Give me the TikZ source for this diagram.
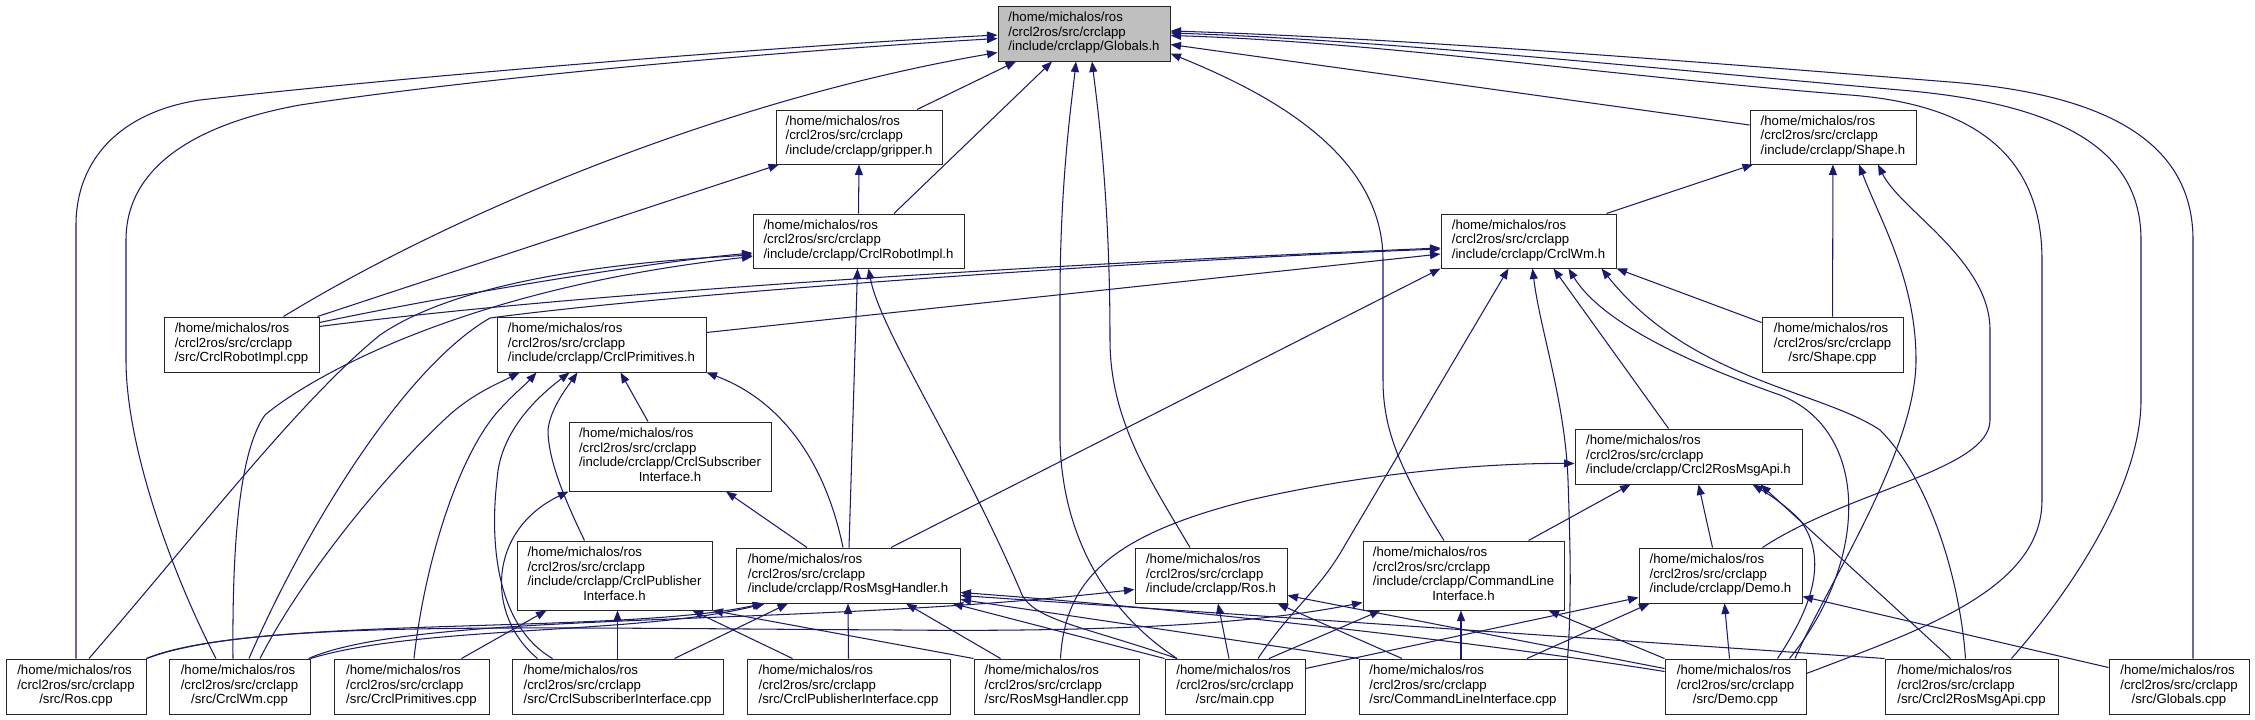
\documentclass[tikz,border=0pt]{standalone}
\usepackage{fontspec}
\setmainfont{Liberation Sans}
\usetikzlibrary{arrows.meta}
\definecolor{edgec}{HTML}{191970}
\definecolor{hdgray}{HTML}{BFBFBF}
\newcommand{\nlab}[1]{\begin{tabular}{@{}l@{}}/home/michalos/ros\\/crcl2ros/src/crclapp\\\multicolumn{1}{@{}c@{}}{#1}\end{tabular}}
\newcommand{\nlabb}[2]{\begin{tabular}{@{}l@{}}/home/michalos/ros\\/crcl2ros/src/crclapp\\#1\\\multicolumn{1}{@{}c@{}}{#2}\end{tabular}}
\begin{document}
\begin{tikzpicture}[x=1pt,y=-1pt,
 box/.style={draw=black!85, line width=1pt, fill=white, inner sep=0pt, font=\fontsize{13.2}{14.5}\selectfont},
 inc/.style={draw=edgec, line width=1.05pt, -{Triangle[length=10.5pt,width=8pt]}}]
\fill[white] (0,0) rectangle (2255,720);
\useasboundingbox (0,0) rectangle (2255,720);
% ---------- nodes ----------
\node[box, fill=hdgray, minimum width=172pt, minimum height=55pt] (g) at (1084,33.5) {\nlab{/include/crclapp/Globals.h}};
\node[box, minimum width=166pt, minimum height=54pt] (grip) at (859,137) {\nlab{/include/crclapp/gripper.h}};
\node[box, minimum width=166pt, minimum height=54pt] (shapeh) at (1833,137) {\nlab{/include/crclapp/Shape.h}};
\node[box, minimum width=211pt, minimum height=54pt] (rih) at (858.5,241) {\nlab{/include/crclapp/CrclRobotImpl.h}};
\node[box, minimum width=175pt, minimum height=54pt] (wmh) at (1528.5,241) {\nlab{/include/crclapp/CrclWm.h}};
\node[box, minimum width=155pt, minimum height=55pt] (ricpp) at (241.5,344.5) {\nlab{/src/CrclRobotImpl.cpp}};
\node[box, minimum width=209pt, minimum height=55pt] (ph) at (601.5,344.5) {\nlab{/include/crclapp/CrclPrimitives.h}};
\node[box, minimum width=141pt, minimum height=55pt] (shapecpp) at (1832.5,344.5) {\nlab{/src/Shape.cpp}};
\node[box, minimum width=202pt, minimum height=69pt] (sih) at (670,456.5) {\nlabb{/include/crclapp/CrclSubscriber}{Interface.h}};
\node[box, minimum width=227pt, minimum height=55pt] (apih) at (1688.5,456.5) {\nlab{/include/crclapp/Crcl2RosMsgApi.h}};
\node[box, minimum width=195pt, minimum height=69pt] (pih) at (614.5,575.5) {\nlabb{/include/crclapp/CrclPublisher}{Interface.h}};
\node[box, minimum width=224pt, minimum height=55pt] (rmh) at (848,575.5) {\nlab{/include/crclapp/RosMsgHandler.h}};
\node[box, minimum width=152pt, minimum height=55pt] (rosh) at (1211,575.5) {\nlab{/include/crclapp/Ros.h}};
\node[box, minimum width=201pt, minimum height=69pt] (clih) at (1463.5,575.5) {\nlabb{/include/crclapp/CommandLine}{Interface.h}};
\node[box, minimum width=163pt, minimum height=55pt] (demoh) at (1720.5,575.5) {\nlab{/include/crclapp/Demo.h}};
\node[box, minimum width=140pt, minimum height=55pt] (roscpp) at (76,686.5) {\nlab{/src/Ros.cpp}};
\node[box, minimum width=141pt, minimum height=55pt] (wmcpp) at (239.5,686.5) {\nlab{/src/CrclWm.cpp}};
\node[box, minimum width=155pt, minimum height=55pt] (pcpp) at (411.5,686.5) {\nlab{/src/CrclPrimitives.cpp}};
\node[box, minimum width=211pt, minimum height=55pt] (sicpp) at (617.5,686.5) {\nlab{/src/CrclSubscriberInterface.cpp}};
\node[box, minimum width=203pt, minimum height=55pt] (picpp) at (848.5,686.5) {\nlab{/src/CrclPublisherInterface.cpp}};
\node[box, minimum width=165pt, minimum height=55pt] (rmcpp) at (1056.5,686.5) {\nlab{/src/RosMsgHandler.cpp}};
\node[box, minimum width=140pt, minimum height=55pt] (maincpp) at (1235,686.5) {\nlab{/src/main.cpp}};
\node[box, minimum width=208pt, minimum height=55pt] (clicpp) at (1463,686.5) {\nlab{/src/CommandLineInterface.cpp}};
\node[box, minimum width=141pt, minimum height=55pt] (democpp) at (1735.5,686.5) {\nlab{/src/Demo.cpp}};
\node[box, minimum width=173pt, minimum height=55pt] (apicpp) at (1971.5,686.5) {\nlab{/src/Crcl2RosMsgApi.cpp}};
\node[box, minimum width=140pt, minimum height=55pt] (globcpp) at (2179,686.5) {\nlab{/src/Globals.cpp}};
% ---------- edges into Globals.h ----------
\draw[inc] (roscpp.north) -- (76,225) .. controls (76,160) and (120,112) .. (200,100) .. controls (420,75) and (800,45) .. ([yshift=-1.5pt]g.west);
\draw[inc] ([xshift=-23.5pt]wmcpp.north) .. controls (175,580) and (126,450) .. (126,360) -- (126,240) .. controls (126,170) and (190,125) .. (300,105) .. controls (500,75) and (800,50) .. ([yshift=-5pt]g.west);
\draw[inc] ([xshift=42pt]ricpp.north) .. controls (450,215) and (720,100) .. ([yshift=-19pt]g.west);
\draw[inc] ([xshift=58pt]grip.north) -- ([xshift=-68pt]g.south);
\draw[inc] ([xshift=35.5pt]rih.north) -- ([xshift=-32pt]g.south);
\draw[inc] ([xshift=-58pt]maincpp.north) .. controls (1110,615) and (1062,540) .. (1060,440) -- (1060,300) .. controls (1060,180) and (1072,100) .. ([xshift=-8pt]g.south);
\draw[inc] ([xshift=-21pt]rosh.north) .. controls (1150,480) and (1110,420) .. (1110,340) .. controls (1110,200) and (1098,110) .. ([xshift=8pt]g.south);
\draw[inc] ([xshift=-19.5pt]clih.north) .. controls (1400,470) and (1383,430) .. (1383,380) -- (1383,260) .. controls (1383,150) and (1260,90) .. ([yshift=-20pt]g.east);
\draw[inc] ([yshift=12pt]shapeh.west) -- ([yshift=-11pt]g.east);
\draw[inc] ([yshift=13pt]democpp.east) .. controls (1920,630) and (2042,590) .. (2042,500) -- (2042,260) .. controls (2042,160) and (1980,105) .. (1850,95) .. controls (1600,75) and (1380,42) .. ([yshift=-2pt]g.east);
\draw[inc] ([xshift=40pt]apicpp.north) .. controls (2080,580) and (2141,480) .. (2141,400) -- (2141,240) .. controls (2141,160) and (2080,105) .. (1900,90) .. controls (1650,68) and (1380,40) .. ([yshift=0.5pt]g.east);
\draw[inc] ([xshift=14pt]globcpp.north) -- (2193,240) .. controls (2193,150) and (2120,95) .. (1950,82) .. controls (1700,62) and (1400,38) .. ([yshift=2.5pt]g.east);
% ---------- gripper.h ----------
\draw[inc] (rih.north) -- (grip.south);
\draw[inc] ([xshift=-2pt]ricpp.north east) -- ([xshift=-80pt]grip.south);
% ---------- Shape.h ----------
\draw[inc] ([xshift=78pt]wmh.north) -- ([xshift=-80pt]shapeh.south);
\draw[inc] (shapecpp) -- (shapeh);
\draw[inc] ([xshift=59.5pt]democpp.north) .. controls (1830,580) and (1916,450) .. (1916,360) .. controls (1916,280) and (1880,220) .. ([xshift=26pt]shapeh.south);
\draw[inc] ([xshift=42pt]demoh.north) .. controls (1850,490) and (1990,470) .. (1990,420) -- (1990,330) .. controls (1990,260) and (1900,210) .. ([xshift=45pt]shapeh.south);
% ---------- CrclRobotImpl.h ----------
\draw[inc] ([yshift=22pt]ricpp.east) .. controls (450,295) and (650,262) .. ([yshift=-12pt]rih.west);
\draw[inc] ([xshift=13pt]roscpp.north) .. controls (200,530) and (300,400) .. (380,335) .. controls (460,280) and (620,262) .. ([yshift=-14pt]rih.west);
\draw[inc] ([xshift=-6.5pt]wmcpp.north) .. controls (232,540) and (240,450) .. (265,415) .. controls (300,385) and (450,290) .. ([yshift=-15.5pt]rih.west);
\draw[inc] ([xshift=1pt]rmh.north) -- ([xshift=-1pt]rih.south);
\draw[inc] ([xshift=-58pt]maincpp.north) .. controls (1080,625) and (1030,620) .. (1020,590) .. controls (960,450) and (880,330) .. ([xshift=10pt]rih.south);
% ---------- CrclWm.h ----------
\draw[inc] ([yshift=18pt]ricpp.east) .. controls (600,290) and (1100,262) .. ([yshift=-7pt]wmh.west);
\draw[inc] ([xshift=9.5pt]wmcpp.north) .. controls (300,540) and (400,370) .. (490,318) .. controls (700,290) and (1200,258) .. ([yshift=-8pt]wmh.west);
\draw[inc] ([yshift=12pt]ph.east) -- ([yshift=-13pt]wmh.west);
\draw[inc] ([xshift=43pt]rmh.north) -- (wmh.south west);
\draw[inc] ([xshift=23pt]maincpp.north) .. controls (1290,610) and (1320,590) .. (1345,545) -- ([xshift=-20pt]wmh.south);
\draw[inc] (clicpp.north east) .. controls (1572,600) and (1570,540) .. (1568,480) .. controls (1565,400) and (1540,330) .. ([xshift=4pt]wmh.south);
\draw[inc] ([xshift=-20pt]apih.north) -- ([xshift=25pt]wmh.south);
\draw[inc] ([xshift=54pt]democpp.north) .. controls (1870,560) and (1870,430) .. (1780,395) .. controls (1680,360) and (1600,320) .. ([xshift=40pt]wmh.south);
\draw[inc] ([xshift=-6pt]apicpp.north) .. controls (1960,580) and (1930,480) .. (1880,430) .. controls (1820,390) and (1690,380) .. ([xshift=73pt]wmh.south);
\draw[inc] ([yshift=22pt]shapecpp.west) -- (wmh.south east);
% ---------- CrclPrimitives.h ----------
\draw[inc] ([xshift=20.5pt]wmcpp.north) .. controls (300,580) and (380,480) .. (444,420) .. controls (470,395) and (495,385) .. ([xshift=-82pt]ph.south);
\draw[inc] ([xshift=2.5pt]pcpp.north) .. controls (425,560) and (460,450) .. (502,407) .. controls (515,393) and (525,385) .. ([xshift=-65pt]ph.south);
\draw[inc] ([xshift=-65pt]sicpp.north) .. controls (495,625) and (490,540) .. (497,480) .. controls (500,430) and (540,395) .. ([xshift=-32pt]ph.south);
\draw[inc] ([xshift=-30pt]pih.north) .. controls (565,500) and (548,460) .. (548,430) .. controls (550,410) and (565,390) .. ([xshift=-24pt]ph.south);
\draw[inc] ([xshift=-22pt]sih.north) -- ([xshift=19pt]ph.south);
\draw[inc] ([xshift=-5pt]rmh.north) .. controls (825,460) and (780,400) .. (ph.south east);
% ---------- CrclSubscriberInterface.h ----------
\draw[inc] ([xshift=-80pt]sicpp.north) .. controls (485,615) and (488,530) .. (sih.south west);
\draw[inc] ([xshift=-41pt]rmh.north) -- ([xshift=56pt]sih.south);
% ---------- CrclPublisherInterface.h ----------
\draw[inc] ([xshift=50pt]pcpp.north) -- ([xshift=-68pt]pih.south);
\draw[inc] (sicpp.north) -- ([xshift=3pt]pih.south);
\draw[inc] ([xshift=-56pt]picpp.north) -- ([xshift=78pt]pih.south);
\draw[inc] (rmcpp.north west) -- (pih.south east);
% ---------- RosMsgHandler.h ----------
\draw[inc] (roscpp.north east) .. controls (250,615) and (620,635) .. ([xshift=-85pt]rmh.south);
\draw[inc] (wmcpp.north east) .. controls (420,625) and (640,635) .. ([xshift=-83pt]rmh.south);
\draw[inc] ([xshift=57pt]sicpp.north) -- ([xshift=-60pt]rmh.south);
\draw[inc] (picpp.north) -- (rmh.south);
\draw[inc] ([xshift=-56pt]rmcpp.north) -- ([xshift=58pt]rmh.south);
\draw[inc] (maincpp.north west) -- ([xshift=-8pt]rmh.south east);
\draw[inc] (clicpp.north west) -- ([yshift=-24pt]rmh.east);
\draw[inc] ([yshift=15pt]democpp.west) .. controls (1500,645) and (1200,610) .. ([yshift=-17pt]rmh.east);
\draw[inc] (apicpp.north west) -- ([yshift=-20pt]rmh.east);
% ---------- Ros.h ----------
\draw[inc] ([xshift=-2pt]wmcpp.north east) .. controls (420,610) and (800,628) .. ([yshift=-14pt]rosh.west);
\draw[inc] ([xshift=-6pt]maincpp.north) -- ([xshift=7pt]rosh.south);
\draw[inc] ([xshift=-61pt]clicpp.north) -- ([xshift=-10pt]rosh.south east);
\draw[inc] ([yshift=18pt]democpp.west) -- ([yshift=-20pt]rosh.east);
% ---------- CommandLineInterface.h ----------
\draw[inc] (roscpp.north east) .. controls (250,620) and (500,628) .. (900,630) .. controls (1100,632) and (1250,625) .. ([yshift=-27pt]clih.west);
\draw[inc] ([xshift=34pt]maincpp.north) -- ([xshift=-83pt]clih.south);
\draw[inc] ([xshift=-2pt]clicpp.north) -- ([xshift=-2.5pt]clih.south);
\draw[inc] (democpp.north west) -- ([xshift=85pt]clih.south);
% ---------- Demo.h ----------
\draw[inc] ([yshift=18pt]maincpp.east) -- ([yshift=-22pt]demoh.west);
\draw[inc] ([xshift=64pt]clicpp.north) -- ([xshift=-71pt]demoh.south);
\draw[inc] ([xshift=-6pt]democpp.north) -- ([xshift=4pt]demoh.south);
\draw[inc] ([yshift=19pt]globcpp.west) -- ([yshift=-21pt]demoh.east);
% ---------- Crcl2RosMsgApi.h ----------
\draw[inc] ([xshift=65pt]clih.north) -- ([xshift=-58pt]apih.south);
\draw[inc] ([xshift=-8pt]demoh.north) -- ([xshift=10pt]apih.south);
\draw[inc] ([xshift=42pt]democpp.north) .. controls (1810,610) and (1830,560) .. (1800,520) .. controls (1785,505) and (1770,495) .. ([xshift=64pt]apih.south);
\draw[inc] ([xshift=-21pt]apicpp.north) -- ([xshift=72pt]apih.south);
\draw[inc] ([xshift=4pt]rmcpp.north) .. controls (1065,580) and (1110,535) .. (1250,500) .. controls (1380,470) and (1500,463) .. ([yshift=-7pt]apih.west);
\end{tikzpicture}
\end{document}
